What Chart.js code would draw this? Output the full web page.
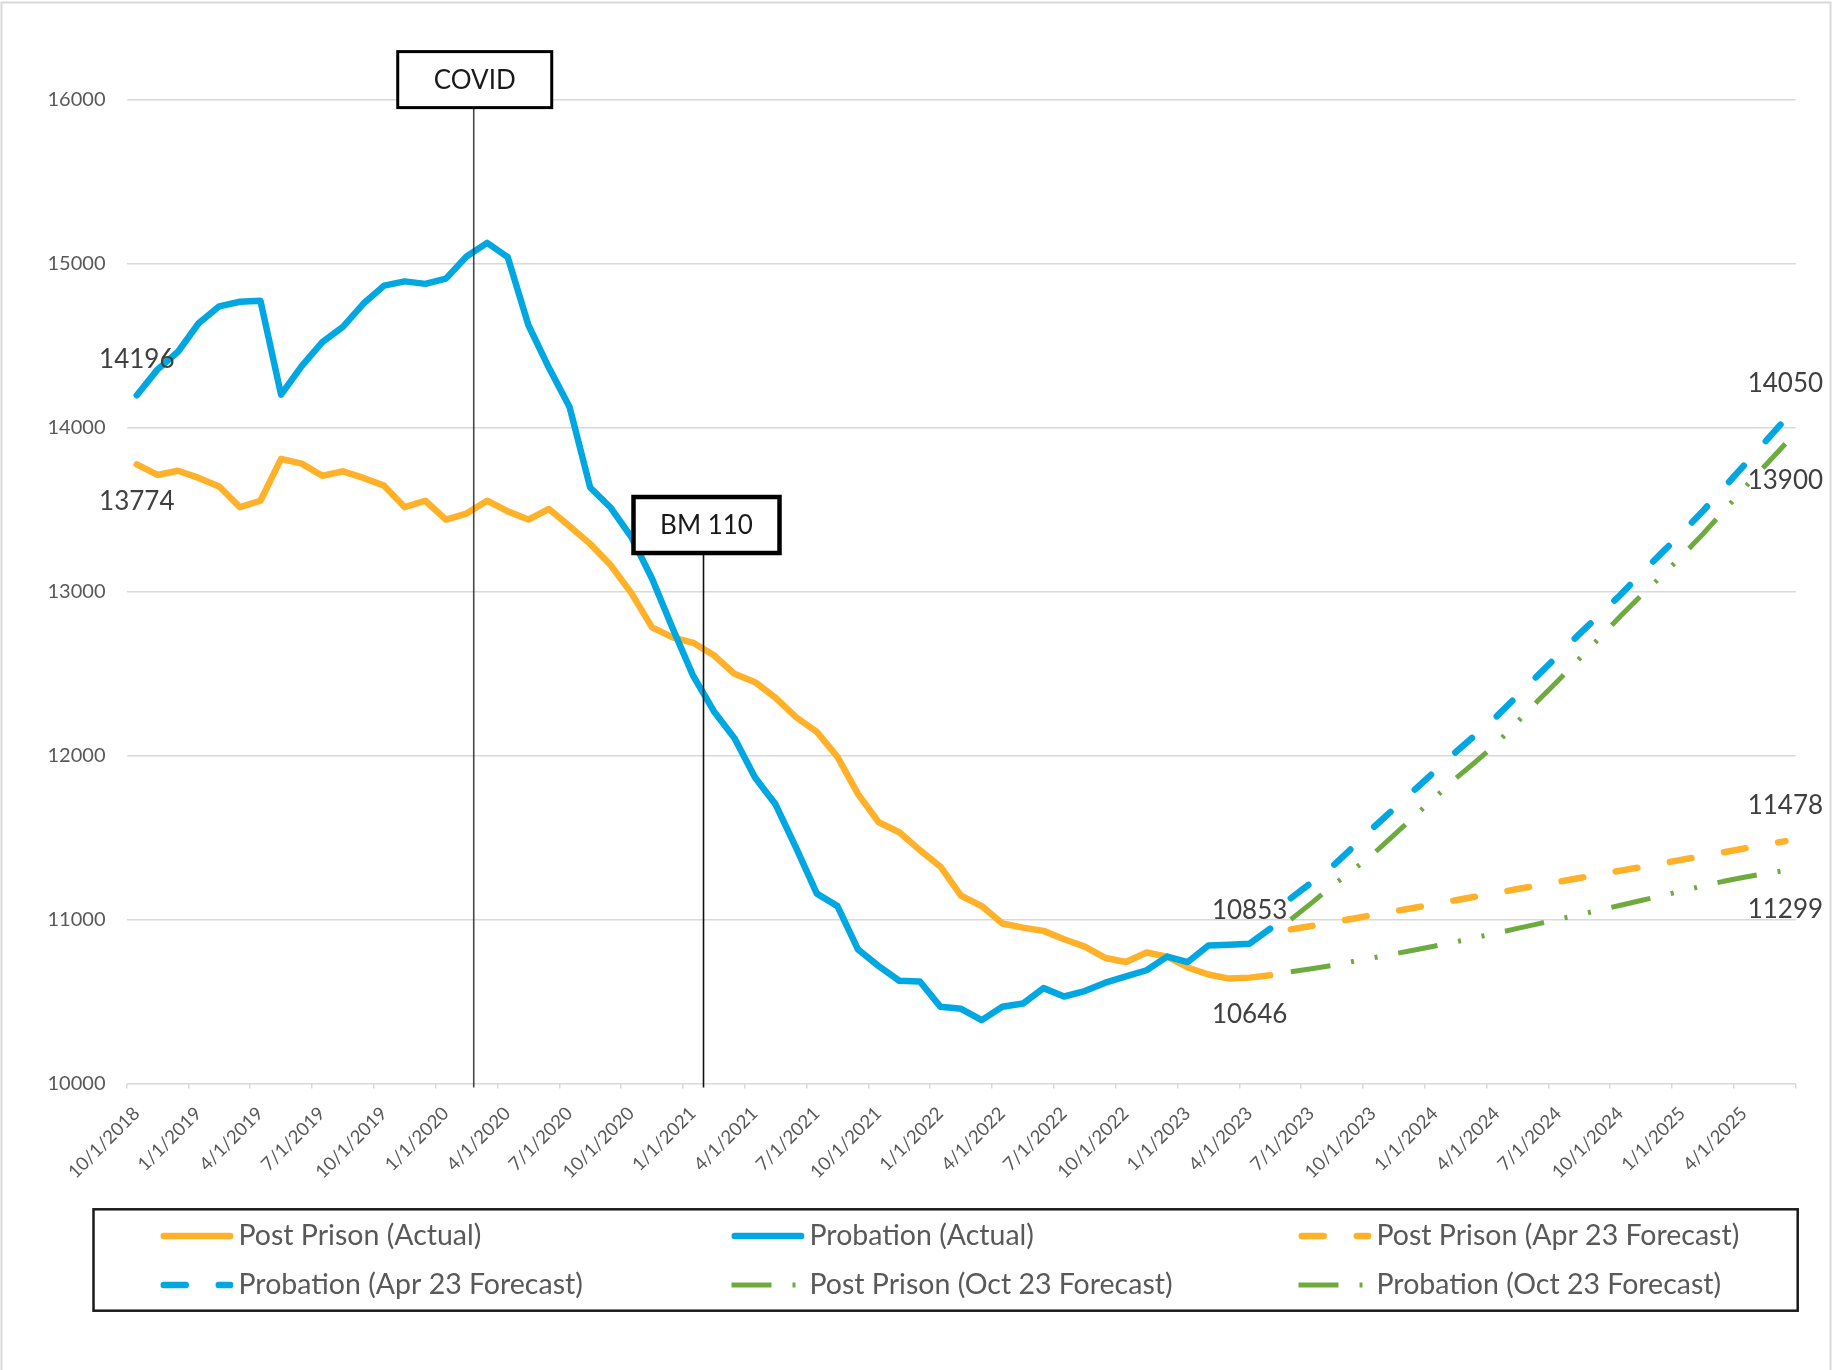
<!DOCTYPE html>
<html>
<head>
<meta charset="utf-8">
<script src="https://cdn.jsdelivr.net/npm/chart.js@4.4.1/dist/chart.umd.min.js"></script>
<style>
  html, body { margin: 0; padding: 0; background: #ffffff; }
  canvas { display: block; }
</style>
</head>
<body>
<canvas id="chart" width="1832" height="1370"></canvas>
<script>
// ---------------- DATA ----------------
const monthLabels = [
  "10/1/2018","11/1/2018","12/1/2018",
  "1/1/2019","2/1/2019","3/1/2019","4/1/2019","5/1/2019","6/1/2019","7/1/2019","8/1/2019","9/1/2019","10/1/2019","11/1/2019","12/1/2019",
  "1/1/2020","2/1/2020","3/1/2020","4/1/2020","5/1/2020","6/1/2020","7/1/2020","8/1/2020","9/1/2020","10/1/2020","11/1/2020","12/1/2020",
  "1/1/2021","2/1/2021","3/1/2021","4/1/2021","5/1/2021","6/1/2021","7/1/2021","8/1/2021","9/1/2021","10/1/2021","11/1/2021","12/1/2021",
  "1/1/2022","2/1/2022","3/1/2022","4/1/2022","5/1/2022","6/1/2022","7/1/2022","8/1/2022","9/1/2022","10/1/2022","11/1/2022","12/1/2022",
  "1/1/2023","2/1/2023","3/1/2023","4/1/2023","5/1/2023","6/1/2023","7/1/2023","8/1/2023","9/1/2023","10/1/2023","11/1/2023","12/1/2023",
  "1/1/2024","2/1/2024","3/1/2024","4/1/2024","5/1/2024","6/1/2024","7/1/2024","8/1/2024","9/1/2024","10/1/2024","11/1/2024","12/1/2024",
  "1/1/2025","2/1/2025","3/1/2025","4/1/2025","5/1/2025","6/1/2025"
];

const tickLabels = [
  "10/1/2018","1/1/2019","4/1/2019","7/1/2019","10/1/2019","1/1/2020","4/1/2020","7/1/2020",
  "10/1/2020","1/1/2021","4/1/2021","7/1/2021","10/1/2021","1/1/2022","4/1/2022","7/1/2022",
  "10/1/2022","1/1/2023","4/1/2023","7/1/2023","10/1/2023","1/1/2024","4/1/2024","7/1/2024",
  "10/1/2024","1/1/2025","4/1/2025"
];

// Actuals: 10/1/2018 .. 5/1/2023
const postPrisonActual = [
  13774, 13710, 13736, 13692, 13640, 13514, 13553, 13808, 13779, 13705, 13732, 13692,
  13645, 13514, 13553, 13438, 13475, 13553, 13488, 13438, 13503, 13397, 13290, 13160,
  12990, 12781, 12720, 12687, 12611, 12498, 12447, 12351, 12232, 12144, 11992, 11765,
  11593, 11532, 11423, 11322, 11145, 11082, 10976, 10951, 10931, 10880, 10835, 10766,
  10741, 10799, 10774, 10708, 10665, 10640, 10646, 10660
];
const probationActual = [
  14196, 14352, 14461, 14635, 14738, 14766, 14772, 14200, 14374, 14520, 14613, 14755,
  14864, 14890, 14875, 14907, 15042, 15125, 15038, 14624, 14363, 14124, 13634, 13510,
  13331, 13079, 12776, 12485, 12270, 12106, 11866, 11701, 11436, 11158, 11082, 10817,
  10716, 10627, 10622, 10468, 10456, 10387, 10468, 10488, 10582, 10531, 10564, 10615,
  10653, 10691, 10774, 10741, 10842, 10847, 10853, 10945
];

// Forecasts: 6/1/2023 .. 6/1/2025
const forecastStart = "6/1/2023";
const postPrisonApr23 = [
  10940, 10961, 10983, 11005, 11028, 11050, 11072, 11095, 11118, 11140, 11163, 11186,
  11208, 11230, 11253, 11276, 11298, 11320, 11343, 11365, 11388, 11410, 11433, 11455, 11478
];
const probationApr23 = [
  11130, 11225, 11322, 11440, 11560, 11675, 11790, 11905, 12020, 12130, 12240, 12365,
  12490, 12615, 12740, 12860, 12980, 13110, 13235, 13360, 13490, 13630, 13770, 13910, 14050
];
const postPrisonOct23 = [
  10682, 10700, 10720, 10744, 10767, 10790, 10814, 10839, 10864, 10891, 10918, 10946,
  10974, 11002, 11030, 11058, 11087, 11116, 11145, 11175, 11205, 11233, 11258, 11280, 11299
];
const probationOct23 = [
  11000, 11100, 11205, 11300, 11400, 11515, 11630, 11745, 11860, 11965, 12075, 12205,
  12335, 12460, 12590, 12720, 12850, 12975, 13095, 13220, 13350, 13490, 13630, 13765, 13900
];

const yTicks = { min: 10000, max: 16000, step: 1000 };

// ---------------- STYLES ----------------
const ORANGE = '#FFB229';
const BLUE = '#00A7E1';
const GREEN = '#6EAB3F';
const FONT = 'Lato, "Open Sans", sans-serif';

// month i is centred in its month slot on the linear month axis
function toPoints(values, startLabel) {
  const start = monthLabels.indexOf(startLabel);
  return values.map((v, i) => ({ x: start + i + 0.5, y: v }));
}

const datasets = [
  { label: 'Post Prison (Actual)', data: toPoints(postPrisonActual, monthLabels[0]),
    borderColor: ORANGE, borderWidth: 6.5, borderDash: [], borderCapStyle: 'round' },
  { label: 'Probation (Actual)', data: toPoints(probationActual, monthLabels[0]),
    borderColor: BLUE, borderWidth: 6.5, borderDash: [], borderCapStyle: 'round' },
  { label: 'Post Prison (Apr 23 Forecast)', data: toPoints(postPrisonApr23, forecastStart),
    borderColor: ORANGE, borderWidth: 6.5, borderDash: [22, 33], borderCapStyle: 'round' },
  { label: 'Probation (Apr 23 Forecast)', data: toPoints(probationApr23, forecastStart),
    borderColor: BLUE, borderWidth: 6.5, borderDash: [22, 33], borderCapStyle: 'round' },
  { label: 'Post Prison (Oct 23 Forecast)', data: toPoints(postPrisonOct23, forecastStart),
    borderColor: GREEN, borderWidth: 5, borderDash: [40, 21, 3, 21, 3, 21], borderCapStyle: 'butt' },
  { label: 'Probation (Oct 23 Forecast)', data: toPoints(probationOct23, forecastStart),
    borderColor: GREEN, borderWidth: 5, borderDash: [40, 21, 3, 21, 3, 21], borderCapStyle: 'butt' },
].map((d, i, arr) => Object.assign(d, {
  fill: false, tension: 0, pointRadius: 0, pointHoverRadius: 0,
  borderJoinStyle: 'round', order: arr.length - i
}));

// annotation boxes with vertical marker lines (x in month-axis units, box centre y in data units)
const eventMarkers = [
  { text: 'COVID', x: 16.85, boxY: 16120, boxW: 154, boxH: 56, border: 3, dx: 1, lineColor: 'rgba(40,40,40,0.85)' },
  { text: 'BM 110', x: 28.0, boxY: 13405, boxW: 146, boxH: 56, border: 4.5, dx: 3, lineColor: '#111' },
];

// value labels: dataset index, point index, vertical offset in px
const valueLabels = [
  { ds: 1, idx: 0, dy: -36 },
  { ds: 0, idx: 0, dy: 37 },
  { ds: 1, idx: 54, dy: -33 },
  { ds: 0, idx: 54, dy: 37 },
  { ds: 3, idx: 24, dy: -36 },
  { ds: 5, idx: 24, dy: 37 },
  { ds: 2, idx: 24, dy: -36 },
  { ds: 4, idx: 24, dy: 39 },
];

const legendLayout = {
  box: { x: 93.5, y: 1209.3, w: 1704.2, h: 101.4 },
  cols: [160.5, 731.5, 1298.5], rows: [1236, 1285],
  swatch: 73, textGap: 78, fontSize: 28.5
};

// ---------------- PLUGINS ----------------
const framePlugin = {
  id: 'frame',
  beforeDraw(chart) {
    const ctx = chart.ctx;
    ctx.save();
    ctx.fillStyle = '#fff';
    ctx.fillRect(0, 0, chart.width, chart.height);
    ctx.strokeStyle = '#d9d9d9';
    ctx.lineWidth = 2;
    ctx.strokeRect(1.5, 2.5, 1829, 1400);
    ctx.restore();
  }
};

const markerPlugin = {
  id: 'markers',
  afterDatasetsDraw(chart) {
    const ctx = chart.ctx, xs = chart.scales.x, ys = chart.scales.y;
    ctx.save();
    eventMarkers.forEach(m => {
      const lx = xs.getPixelForValue(m.x);
      const cy = ys.getPixelForValue(m.boxY);
      const bx = lx + (m.dx || 0) - m.boxW / 2;
      const by = cy - m.boxH / 2;
      ctx.strokeStyle = m.lineColor;
      ctx.lineWidth = 1.6;
      ctx.beginPath();
      ctx.moveTo(lx, by + m.boxH);
      ctx.lineTo(lx, chart.chartArea.bottom + 4);
      ctx.stroke();
      ctx.fillStyle = '#fff';
      ctx.fillRect(bx, by, m.boxW, m.boxH);
      ctx.strokeStyle = '#000';
      ctx.lineWidth = m.border;
      ctx.strokeRect(bx, by, m.boxW, m.boxH);
      ctx.fillStyle = '#1a1a1a';
      ctx.font = '26px ' + FONT;
      ctx.textAlign = 'center';
      ctx.textBaseline = 'middle';
      ctx.fillText(m.text, bx + m.boxW / 2, cy + 1);
    });
    ctx.restore();
  }
};

const valueLabelPlugin = {
  id: 'valueLabels',
  afterDatasetsDraw(chart) {
    const ctx = chart.ctx;
    ctx.save();
    ctx.font = '26px ' + FONT;
    ctx.fillStyle = '#404040';
    ctx.textAlign = 'center';
    ctx.textBaseline = 'middle';
    valueLabels.forEach(l => {
      const pt = chart.getDatasetMeta(l.ds).data[l.idx];
      const v = chart.data.datasets[l.ds].data[l.idx].y;
      ctx.fillText(String(v), pt.x, pt.y + l.dy);
    });
    ctx.restore();
  }
};

const legendPlugin = {
  id: 'gridLegend',
  afterDraw(chart) {
    const ctx = chart.ctx, L = legendLayout;
    ctx.save();
    ctx.strokeStyle = '#1a1a1a';
    ctx.lineWidth = 2.5;
    ctx.strokeRect(L.box.x, L.box.y, L.box.w, L.box.h);
    chart.data.datasets.forEach((ds, i) => {
      const x = L.cols[i % 3], y = L.rows[Math.floor(i / 3)];
      ctx.save();
      ctx.beginPath();
      ctx.rect(x - 4, y - 10, L.swatch + 4, 20);
      ctx.clip();
      ctx.strokeStyle = ds.borderColor;
      ctx.lineWidth = ds.borderWidth;
      ctx.lineCap = ds.borderCapStyle;
      ctx.setLineDash(ds.borderDash);
      ctx.beginPath();
      const cap = ds.borderCapStyle === 'round' ? ds.borderWidth / 2 : 0;
      ctx.moveTo(x + cap, y);
      ctx.lineTo(x + L.swatch - cap, y);
      ctx.stroke();
      ctx.restore();
      ctx.fillStyle = '#595959';
      ctx.font = L.fontSize + 'px ' + FONT;
      ctx.textAlign = 'left';
      ctx.textBaseline = 'middle';
      ctx.fillText(ds.label, x + L.textGap, y);
    });
    ctx.restore();
  }
};

// ---------------- CHART ----------------
Chart.defaults.font.family = FONT;

new Chart(document.getElementById('chart'), {
  type: 'line',
  data: { datasets },
  plugins: [framePlugin, markerPlugin, valueLabelPlugin, legendPlugin],
  options: {
    responsive: false,
    animation: false,
    devicePixelRatio: 1,
    layout: { padding: { top: 99.3, right: 36.3, left: 0, bottom: 0 } },
    plugins: { legend: { display: false }, tooltip: { enabled: false } },
    scales: {
      x: {
        type: 'linear',
        min: 0,
        max: monthLabels.length,
        afterFit(s) { s.height = 286.4; },
        border: { display: false },
        grid: { drawOnChartArea: false, drawTicks: true, tickLength: 5, color: '#d9d9d9', lineWidth: 1.5 },
        ticks: {
          stepSize: 3, autoSkip: false, maxRotation: 45, minRotation: 45,
          padding: 14, labelOffset: 10, color: '#595959', font: { size: 18.5 },
          callback: (v, i) => tickLabels[i] ?? ''
        }
      },
      y: {
        min: yTicks.min,
        max: yTicks.max,
        afterFit(s) { s.width = 126.5; },
        border: { display: false },
        grid: { color: '#d9d9d9', lineWidth: 1.5, drawTicks: false },
        ticks: { stepSize: yTicks.step, padding: 21, color: '#595959', font: { size: 20 },
          callback: v => String(v) }
      }
    }
  }
});
</script>
</body>
</html>
